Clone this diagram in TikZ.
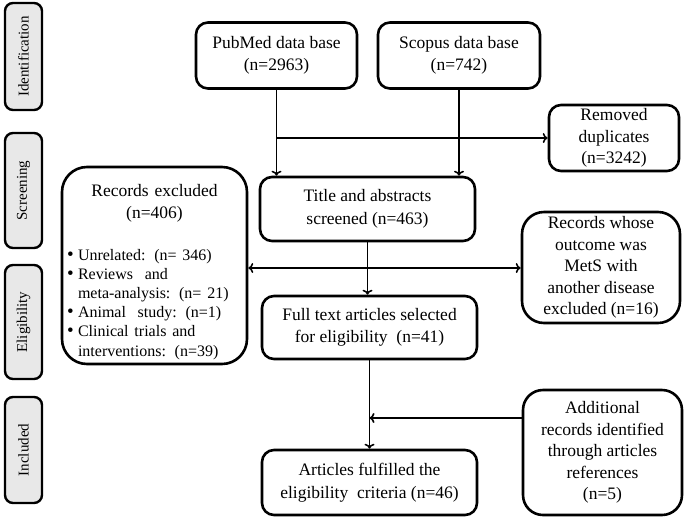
\documentclass[tikz,border=0pt]{standalone}
\usepackage{fontspec}
\setmainfont{Liberation Serif}
\usetikzlibrary{arrows.meta}

\begin{document}
\begin{tikzpicture}[x=1pt,y=-1pt,
  box/.style={draw,line width=2.6pt,rounded corners=12pt,align=center,inner sep=2pt,
    font=\fontsize{17.5}{22.5}\selectfont},
  side/.style={draw,line width=2.4pt,rounded corners=8pt,fill=gray!18,rotate=90,
    minimum height=37pt,font=\fontsize{15}{18}\selectfont},
  link/.style={line width=1.6pt,>={To[length=5pt,width=10pt]},->}]
  \useasboundingbox (0,0) rectangle (685,520);
  % stages
  \foreach \y/\h/\t [count=\i] in {56.5/107/Identification,190.5/115/Screening,
      322/114/Eligibility,450/106/Included}
    \node[side,minimum width=\h] (s\i) at (23.5,\y) {\t};
  % boxes
  \node[box,minimum width=161pt,minimum height=66pt] (pub) at (276.5,55.5) {PubMed data base\\(n=2963)};
  \node[box,minimum width=162pt,minimum height=66pt] (sco) at (459,55.5) {Scopus data base\\(n=742)};
  \node[box,minimum width=130pt,minimum height=66pt,font=\fontsize{17.5}{21.5}\selectfont] (rem) at (614,138) {Removed\\duplicates\\(n=3242)};
  \node[box,minimum width=215pt,minimum height=64pt] (tit) at (367.5,209) {Title and abstracts\\screened (n=463)};
  \node[box,rounded corners=25pt,minimum width=185pt,minimum height=197pt,text width=175pt,align=left,inner sep=0pt] (exc) at (154.5,265.5)
    {{\centering\rule{0pt}{25pt}Records excluded\\(n=406)\par}\vspace{22pt}
     {\fontsize{16}{19.2}\selectfont\raggedright
      \makebox[11pt][l]{\fontsize{19}{19}\selectfont\textbullet}Unrelated: (n= 346)\\
      \makebox[11pt][l]{\fontsize{19}{19}\selectfont\textbullet}Reviews\ \ and\\
      \hspace*{11pt}meta-analysis: (n= 21)\\
      \makebox[11pt][l]{\fontsize{19}{19}\selectfont\textbullet}Animal\ \ study: (n=1)\\
      \makebox[11pt][l]{\fontsize{19}{19}\selectfont\textbullet}Clinical trials and\\
      \hspace*{11pt}interventions: (n=39)\par}};
  \node[box,rounded corners=22pt,minimum width=158pt,minimum height=111pt,font=\fontsize{17.5}{21.5}\selectfont] (oth) at (601,267.5)
    {Records whose\\outcome was\\MetS with\\another disease\\excluded (n=16)};
  \node[box,minimum width=215pt,minimum height=63pt] (ful) at (369.5,327.5) {Full text articles selected\\for eligibility\ \ (n=41)};
  \node[box,rounded corners=20pt,minimum width=159pt,minimum height=125pt,font=\fontsize{17.5}{21.5}\selectfont] (add) at (602.5,452.5)
    {Additional\\records identified\\through articles\\references\\(n=5)};
  \node[box,minimum width=215pt,minimum height=65pt] (art) at (369.5,482.5) {Articles fulfilled the\\eligibility\ \ criteria (n=46)};
  % connectors
  \coordinate (mid) at (367.5,268);
  \coordinate (join) at (369.5,418);
  \draw[link] (pub.south) -- (pub.south |- tit.north);
  \draw[link] (sco.south) -- (sco.south |- tit.north);
  \draw[link] (pub.south |- rem.west) -- (rem.west);
  \draw[link] (tit.south) -- (tit.south |- ful.north);
  \draw[link,<->] (exc.east |- mid) -- (oth.west |- mid);
  \draw[link] (ful.south) -- (art.north);
  \draw[link] (add.west |- join) -- (join);
\end{tikzpicture}
\end{document}
